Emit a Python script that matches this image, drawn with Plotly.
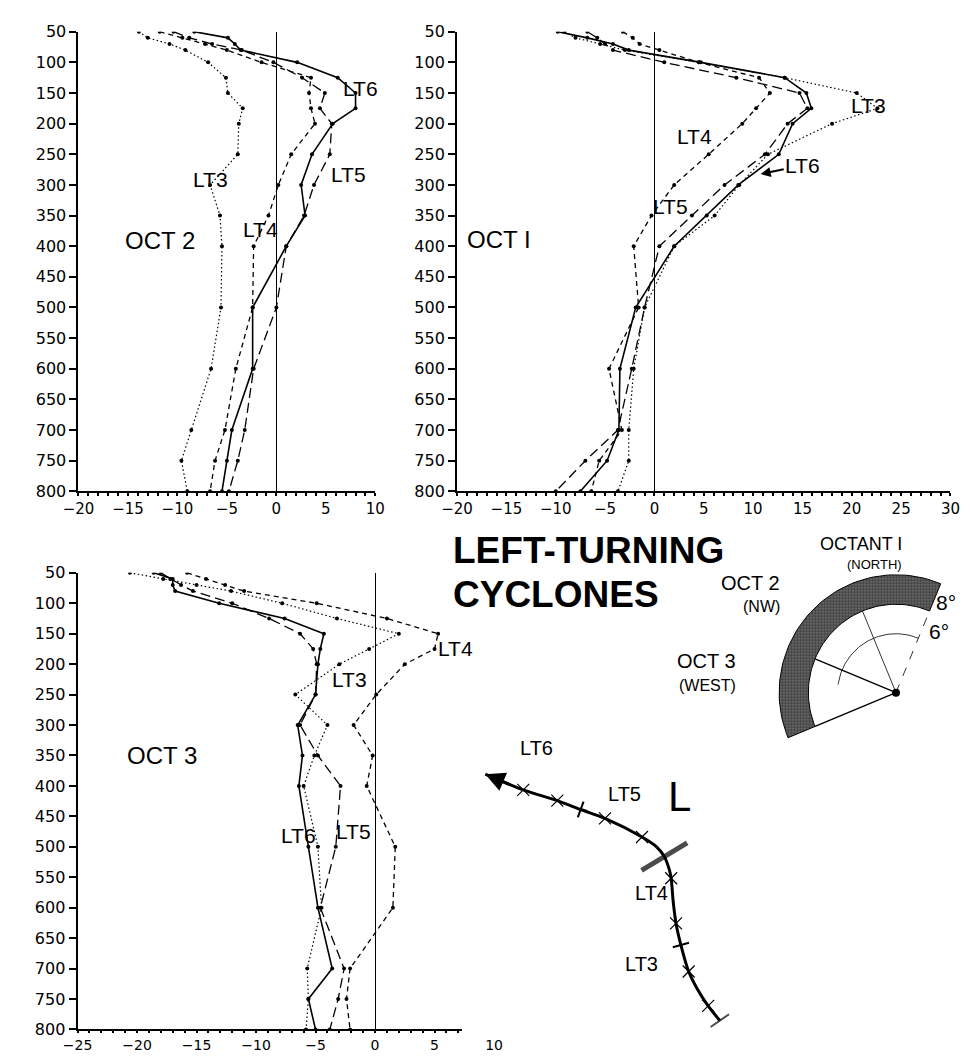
import math
import plotly.graph_objects as go

W, H = 970, 1057

# pressure levels (hPa) used by every profile
LEVELS = [50, 60, 70, 80, 100, 125, 150, 175, 200, 250, 300, 350, 400, 500, 600, 700, 750, 800]

# OCT 2 (NW) panel
OCT2_LT3 = [-13.9, -13.0, -10.8, -9.2, -6.9, -5.1, -4.9, -3.4, -3.8, -3.9, -6.7, -5.7, -5.5, -5.6, -6.6, -8.6, -9.6, -9.0]
OCT2_LT4 = [-11.8, -9.5, -7.2, -5.0, -1.5, 3.5, 3.3, 3.5, 3.9, 1.5, 0.2, -0.8, -2.3, -2.4, -4.1, -5.2, -6.2, -6.7]
OCT2_LT5 = [-10.4, -8.8, -6.5, -3.5, -0.3, 2.6, 4.9, 4.4, 5.6, 5.4, 3.8, 2.8, 1.0, 0.0, -2.3, -3.2, -3.9, -4.8]
OCT2_LT6 = [-8.3, -4.9, -4.2, -3.6, 2.1, 6.2, 8.0, 8.0, 5.7, 3.6, 2.5, 2.9, 1.0, -2.4, -2.4, -4.5, -5.0, -5.5]

# OCT 1 (north) panel
OCT1_LT3 = [-9.1, -8.0, -5.5, -3.0, 4.5, 13.2, 20.5, 22.6, 18.0, 11.5, 8.6, 6.1, 2.0, -1.0, -2.1, -2.6, -2.6, -3.7]
OCT1_LT4 = [-3.2, -2.2, -1.5, 0.5, 4.5, 10.6, 11.7, 10.3, 8.9, 5.5, 2.0, -0.3, -2.1, -1.6, -4.6, -3.3, -5.6, -6.4]
OCT1_LT5 = [-6.8, -5.8, -5.0, -4.2, 1.0, 8.3, 14.7, 15.5, 13.5, 11.2, 7.1, 3.8, 0.5, -1.0, -2.3, -3.7, -7.0, -10.0]
OCT1_LT6 = [-9.8, -6.8, -4.2, -2.6, 4.7, 13.2, 15.4, 15.9, 14.0, 12.6, 8.5, 5.3, 2.0, -1.9, -3.5, -3.6, -4.8, -7.5]

# OCT 3 (west) panel
OCT3_LT3 = [-20.6, -17.8, -15.0, -12.1, -7.8, -3.2, 2.0, -0.5, -3.0, -6.7, -4.0, -5.1, -6.0, -4.8, -4.5, -5.7, -5.6, -5.8]
OCT3_LT4 = [-15.8, -14.2, -12.6, -11.0, -4.9, 1.0, 5.3, 5.0, 2.5, 0.1, -1.8, -0.2, -0.7, 1.7, 1.5, -2.1, -2.4, -2.1]
OCT3_LT5 = [-18.0, -17.2, -16.3, -15.3, -12.0, -8.9, -6.3, -5.2, -4.9, -5.0, -6.3, -4.8, -2.9, -3.3, -4.6, -2.6, -3.1, -3.8]
OCT3_LT6 = [-18.6, -17.0, -17.0, -16.8, -13.1, -7.6, -4.3, -4.6, -4.8, -5.0, -6.5, -6.1, -6.4, -5.6, -4.8, -3.6, -5.6, -5.0]

# schematic track of the left-turning storm (relative to the turning point)
TRACK_X = [-18.4, -14.5, -11.0, -8.6, -6.1, -2.3, -0.8, 0.0, 0.5, 0.7, 0.9, 1.2, 1.7, 2.5, 3.4, 4.5, 5.7]
TRACK_Y = [8.4, 6.8, 5.7, 4.8, 3.9, 2.0, 1.0, 0.0, -1.3, -2.2, -4.5, -6.8, -9.0, -11.7, -13.5, -15.2, -16.7]
FIX_IDX = [1, 2, 4, 5, 9, 11, 13, 15]
DAY_IDX = [3, 12]
DAY_ANGLE = [20, 75]

# octant sketch (radii in degrees latitude)
RING_IN, RING_OUT, INNER_ARC = 6, 8, 4
OCT_EDGES = [67.5, 112.5, 157.5, 202.5]

STYLE = {
    'LT3': dict(dash='1.5px,2.5px', width=1.2),
    'LT4': dict(dash='5px,4px', width=1.3),
    'LT5': dict(dash='10px,5px', width=1.3),
    'LT6': dict(dash='solid', width=1.6),
}
FONT = 'Liberation Sans, Arial, sans-serif'


def px(x):
    return x / W


def py(y):
    return 1 - y / H


def AddProfiles(fig, n, series):
    for name, vals in series:
        st = STYLE[name]
        fig.add_trace(go.Scatter(
            x=vals, y=LEVELS, xaxis='x' + n, yaxis='y' + n, mode='lines+markers', name=name,
            line=dict(color='black', width=st['width'], dash=st['dash']),
            marker=dict(color='black', size=4)))


def PanelAxes(xr, xdom, ydom, n):
    xa = dict(domain=xdom, range=xr, anchor='y' + n, dtick=5, tick0=0,
              showline=True, linecolor='black', linewidth=2, mirror=False,
              ticks='outside', ticklen=3, tickwidth=1.5, tickcolor='black',
              minor=dict(dtick=1, ticks='outside', ticklen=3, tickcolor='black', showgrid=False),
              showgrid=False, zeroline=True, zerolinecolor='black', zerolinewidth=1.2,
              tickfont=dict(family='DejaVu Sans', size=15, color='black'))
    ya = dict(domain=ydom, range=[800, 50], anchor='x' + n, dtick=50, tick0=50,
              showline=True, linecolor='black', linewidth=2,
              ticks='outside', ticklen=7, tickwidth=1.5, tickcolor='black',
              showgrid=False, zeroline=False,
              tickfont=dict(family='DejaVu Sans', size=16, color='black'))
    return xa, ya


fig = go.Figure()

AddProfiles(fig, '', [('LT3', OCT2_LT3), ('LT4', OCT2_LT4), ('LT5', OCT2_LT5), ('LT6', OCT2_LT6)])
AddProfiles(fig, '2', [('LT3', OCT1_LT3), ('LT4', OCT1_LT4), ('LT5', OCT1_LT5), ('LT6', OCT1_LT6)])
AddProfiles(fig, '3', [('LT3', OCT3_LT3), ('LT4', OCT3_LT4), ('LT5', OCT3_LT5), ('LT6', OCT3_LT6)])

# track sketch
fig.add_trace(go.Scatter(x=TRACK_X, y=TRACK_Y, xaxis='x4', yaxis='y4', mode='lines',
                         line=dict(color='black', width=3, shape='spline', smoothing=0.8)))
fig.add_trace(go.Scatter(x=[TRACK_X[i] for i in FIX_IDX], y=[TRACK_Y[i] for i in FIX_IDX],
                         xaxis='x4', yaxis='y4', mode='markers',
                         marker=dict(symbol='x-thin', size=12, line=dict(color='black', width=1.2))))
fig.add_trace(go.Scatter(x=[TRACK_X[i] for i in DAY_IDX], y=[TRACK_Y[i] for i in DAY_IDX],
                         xaxis='x4', yaxis='y4', mode='markers',
                         marker=dict(symbol='line-ns', size=12, angle=DAY_ANGLE,
                                     line=dict(color='black', width=2))))
fig.add_trace(go.Scatter(x=[TRACK_X[7], TRACK_X[-1]], y=[TRACK_Y[7], TRACK_Y[-1]],
                         xaxis='x4', yaxis='y4', mode='markers',
                         marker=dict(symbol='line-ns', size=[38, 16], angle=[59, 55], color='black',
                                     line=dict(color='black', width=[5, 2]))))

# octant sketch
def arc(r, a0, a1, n=60):
    ang = [a0 + (a1 - a0) * k / n for k in range(n + 1)]
    return [r * math.cos(math.radians(a)) for a in ang], [r * math.sin(math.radians(a)) for a in ang]

ox, oy = arc(RING_OUT, OCT_EDGES[0], OCT_EDGES[-1])
ix, iy = arc(RING_IN, OCT_EDGES[-1], OCT_EDGES[0])
fig.add_trace(go.Scatter(x=ox + ix + [ox[0]], y=oy + iy + [oy[0]], xaxis='x5', yaxis='y5',
                         mode='lines', fill='toself', fillcolor='#444444',
                         fillpattern=dict(shape='.', size=3, solidity=0.6, fgcolor='black', bgcolor='#777777'),
                         line=dict(color='black', width=1)))
ax_, ay_ = arc(INNER_ARC, OCT_EDGES[0], 172)
fig.add_trace(go.Scatter(x=ax_, y=ay_, xaxis='x5', yaxis='y5', mode='lines',
                         line=dict(color='black', width=0.8)))
for a, w, d in zip(OCT_EDGES, [0.8, 0.8, 1.4, 1.4], ['dash', 'solid', 'solid', 'solid']):
    fig.add_trace(go.Scatter(x=[0, RING_IN * math.cos(math.radians(a))],
                             y=[0, RING_IN * math.sin(math.radians(a))],
                             xaxis='x5', yaxis='y5', mode='lines',
                             line=dict(color='black', width=w, dash=d)))
fig.add_trace(go.Scatter(x=[0], y=[0], xaxis='x5', yaxis='y5', mode='markers',
                         marker=dict(symbol='circle', size=8, color='black')))

xa1, ya1 = PanelAxes([-20, 10], [px(56), px(361)], [py(483), py(15)], '')
xa2, ya2 = PanelAxes([-20, 30], [px(445), px(952)], [py(483), py(15)], '2')
xa3, ya3 = PanelAxes([-25, 10], [px(55), px(483)], [py(1031), py(566)], '3')
xa3['ticklen'] = 2
xa3['minor']['ticklen'] = 2
xa3['tickfont'] = dict(family='DejaVu Sans', size=14, color='black')

hidden = dict(visible=False, showgrid=False, zeroline=False, fixedrange=True)

anns = []


def Label(text, x, y, size=21, **kw):
    anns.append(dict(text=text, x=px(x), y=py(y), xref='paper', yref='paper', showarrow=False,
                     borderpad=0, font=dict(family=FONT, size=size, color='black'), **kw))


# panel names and profile labels
Label('OCT 2', 103, 213, 24)
Label('OCT I', 488, 212, 24)
Label('OCT 3', 105, 767, 24)
Label('LT6', 346, 60)
Label('LT5', 333, 148)
Label('LT3', 173, 153)
Label('LT4', 224, 204)
Label('LT3', 887, 77)
Label('LT4', 708, 109)
Label('LT5', 683, 180)
Label('LT4', 443, 643)
Label('LT3', 334, 675)
Label('LT6', 263, 846)
Label('LT5', 339, 842)
anns.append(dict(text='LT6', x=px(757), y=py(160), xref='paper', yref='paper', showarrow=True,
                 ax=42, ay=-9, arrowhead=2, arrowsize=1, arrowwidth=2, arrowcolor='black',
                 font=dict(family=FONT, size=21, color='black')))

# title
Label('<b>LEFT-TURNING</b>', 440, 543, 37, xanchor='left')
Label('<b>CYCLONES</b>', 440, 588, 37, xanchor='left')

# octant labels
Label('OCTANT I', 903, 537, 18)
Label('(NORTH)', 903, 558, 13)
Label('OCT 2', 778, 576, 20)
Label('(NW)', 778, 600, 16)
Label('OCT 3', 733, 656, 20)
Label('(WEST)', 733, 681, 16)
Label('8°', 959, 596, 21)
Label('6°', 951, 626, 21)

# track labels
Label('LT6', 527, 757, 20)
Label('LT5', 617, 803, 20)
Label('L', 686, 819, 42)
Label('LT4', 645, 904, 20)
Label('LT3', 653, 977, 20)

# arrow head at the end of the track
anns.append(dict(x=TRACK_X[0], y=TRACK_Y[0], xref='x4', yref='y4', ax=TRACK_X[0] + 2.6, ay=TRACK_Y[0] - 1.1,
                 axref='x4', ayref='y4', showarrow=True, arrowhead=2, arrowsize=1.3, arrowwidth=3,
                 arrowcolor='black', text=''))

fig.update_layout(
    width=W, height=H, margin=dict(l=0, r=0, t=0, b=0),
    paper_bgcolor='white', plot_bgcolor='white', showlegend=False,
    xaxis=xa1, yaxis=ya1, xaxis2=xa2, yaxis2=ya2, xaxis3=xa3, yaxis3=ya3,
    xaxis4=dict(domain=[px(450), px(740)], range=[-20.8, 8.2], anchor='y4', **hidden),
    yaxis4=dict(domain=[py(1040), py(750)], range=[-18.5, 10.5], anchor='x4', **hidden),
    xaxis5=dict(domain=[px(750), px(970)], range=[-9.73, 4.93], anchor='y5', **hidden),
    yaxis5=dict(domain=[py(760), py(520)], range=[-4.8, 11.2], anchor='x5', **hidden),
    annotations=anns,
)

fig.write_html('out.html')
